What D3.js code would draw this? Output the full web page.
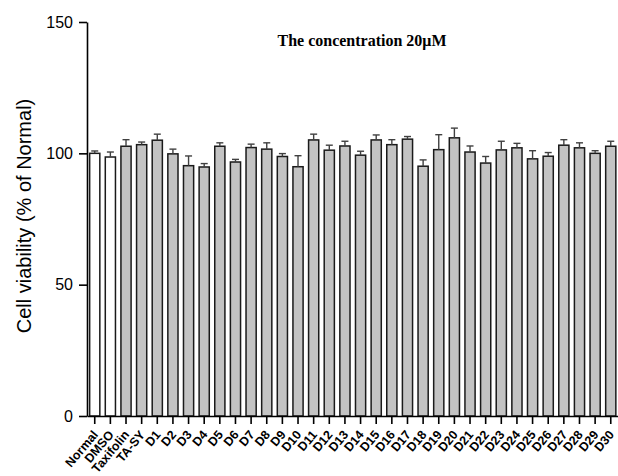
<!DOCTYPE html>
<html>
<head>
<meta charset="utf-8">
<script src="https://cdn.jsdelivr.net/npm/d3@7"></script>
<style>
  html, body { margin: 0; padding: 0; background: #fff; }
  svg { display: block; }
</style>
</head>
<body>
<svg id="chart" width="618" height="476"></svg>
<script>
// Groups tested at 20 µM
const categories = ["Normal", "DMSO", "Taxifolin", "TA-SY",
  "D1", "D2", "D3", "D4", "D5", "D6", "D7", "D8", "D9", "D10",
  "D11", "D12", "D13", "D14", "D15", "D16", "D17", "D18", "D19", "D20",
  "D21", "D22", "D23", "D24", "D25", "D26", "D27", "D28", "D29", "D30"];

// Mean cell viability (% of Normal)
const viability = [100.0, 98.6, 102.7, 103.3,
  105.0, 99.8, 95.3, 94.8, 102.7, 96.7, 102.2, 101.6, 98.8, 94.9,
  105.1, 101.2, 102.8, 99.3, 105.1, 103.3, 105.4, 95.1, 101.4, 105.9,
  100.5, 96.3, 101.3, 102.1, 97.9, 98.9, 103.1, 102.1, 100.0, 102.7];

// Standard deviation
const errors = [0.9, 1.9, 2.5, 1.0,
  2.3, 1.8, 3.7, 1.3, 1.3, 1.0, 1.3, 2.4, 1.1, 4.2,
  2.2, 1.9, 1.8, 1.5, 1.9, 1.9, 1.0, 2.4, 5.7, 3.7,
  2.3, 2.5, 3.3, 1.7, 3.1, 1.4, 2.1, 1.9, 1.0, 1.9];

// Control groups drawn as open bars
const controls = ["Normal", "DMSO"];

const yTicks = [0, 50, 100, 150];
const titleText = "The concentration 20\u03BCM";
const yLabel = "Cell viability (% of Normal)";

const data = categories.map((c, i) => ({ name: c, value: viability[i], err: errors[i] }));

const svg = d3.select("#chart");

const x = d3.scaleBand()
  .domain(categories)
  .range([87, 618.5])
  .paddingInner(0.35)
  .paddingOuter(0.17);

const y = d3.scaleLinear()
  .domain([0, 150])
  .range([416, 22]);

// Bars
svg.append("g")
  .selectAll("rect")
  .data(data)
  .join("rect")
  .attr("x", d => x(d.name))
  .attr("y", d => y(d.value))
  .attr("width", x.bandwidth())
  .attr("height", d => y(0) - y(d.value))
  .attr("fill", d => controls.includes(d.name) ? "#ffffff" : "#c3c3c3")
  .attr("stroke", "#1a1a1a")
  .attr("stroke-width", 1.5);

// Error bars (upper whisker only)
const eb = svg.append("g")
  .attr("stroke", "#404040")
  .attr("stroke-width", 1.4)
  .selectAll("g")
  .data(data)
  .join("g");
eb.append("line")
  .attr("x1", d => x(d.name) + x.bandwidth() / 2)
  .attr("x2", d => x(d.name) + x.bandwidth() / 2)
  .attr("y1", d => y(d.value))
  .attr("y2", d => y(d.value + d.err));
eb.append("line")
  .attr("x1", d => x(d.name) + x.bandwidth() / 2 - 3.5)
  .attr("x2", d => x(d.name) + x.bandwidth() / 2 + 3.5)
  .attr("y1", d => y(d.value + d.err))
  .attr("y2", d => y(d.value + d.err));

// Y axis
const yAxis = svg.append("g")
  .attr("transform", "translate(87,0)")
  .call(d3.axisLeft(y).tickValues(yTicks).tickSize(8).tickPadding(6).tickSizeOuter(0));
yAxis.select(".domain").attr("stroke", "#000").attr("stroke-width", 1.6);
yAxis.selectAll(".tick line").attr("stroke", "#000").attr("stroke-width", 1.6);
yAxis.selectAll(".tick text")
  .attr("fill", "#000")
  .style("font-family", "'Liberation Sans', Arial, sans-serif")
  .style("font-size", "16px");

// X axis
const xAxis = svg.append("g")
  .attr("transform", "translate(0,416)")
  .call(d3.axisBottom(x).tickSize(8).tickSizeOuter(0));
xAxis.select(".domain").attr("stroke", "#000").attr("stroke-width", 1.6);
xAxis.selectAll(".tick line").attr("stroke", "#000").attr("stroke-width", 1.6);
xAxis.selectAll(".tick text")
  .attr("fill", "#000")
  .attr("text-anchor", "end")
  .attr("dy", null)
  .attr("y", 0)
  .attr("transform", "translate(4,19) rotate(-50)")
  .style("font-family", "'Liberation Sans', Arial, sans-serif")
  .style("font-weight", "bold")
  .style("font-size", "12.5px");

// Y axis title
svg.append("text")
  .attr("transform", "translate(31,216) rotate(-90)")
  .attr("text-anchor", "middle")
  .style("font-family", "'Liberation Sans', Arial, sans-serif")
  .style("font-size", "20px")
  .text(yLabel);

// Chart title
svg.append("text")
  .attr("x", 362)
  .attr("y", 46)
  .attr("text-anchor", "middle")
  .style("font-family", "'Liberation Serif', 'Times New Roman', serif")
  .style("font-weight", "bold")
  .style("font-size", "16px")
  .text(titleText);
</script>
</body>
</html>
